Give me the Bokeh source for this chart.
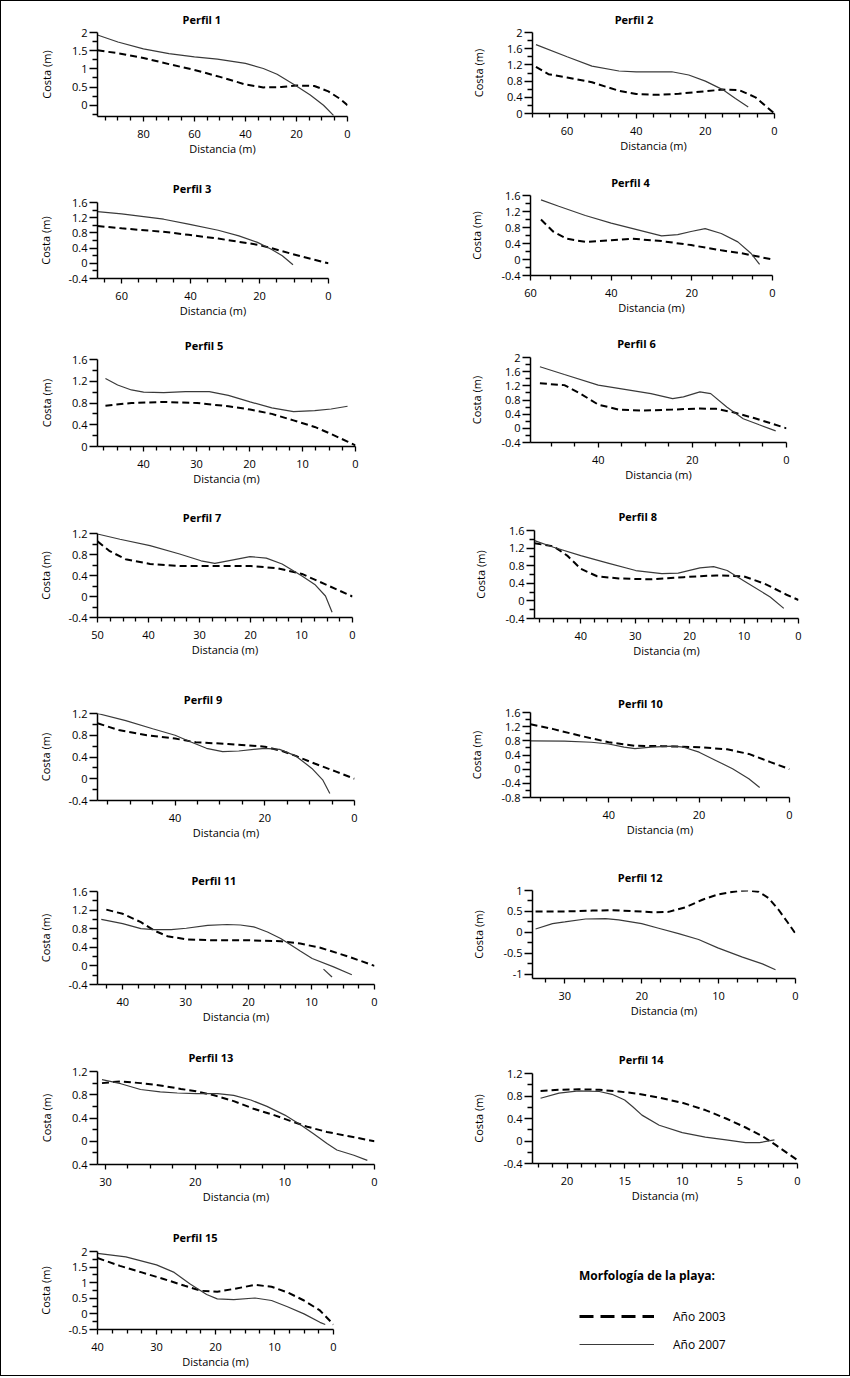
import numpy as np
from bokeh.plotting import figure
from bokeh.layouts import column, row
from bokeh.models import Range1d, FixedTicker, Legend, LegendItem, NumeralTickFormatter
from bokeh.embed import file_html
from bokeh.resources import INLINE

FONT = "Open Sans"

# ---------------- data ----------------
perfil_titles = ["Perfil %d" % k for k in range(1, 16)]
x_label = "Distancia (m)"
y_label = "Costa (m)"
legend_title = "Morfología de la playa:"
series_names = ["Año 2003", "Año 2007"]

p1_d03 = [98, 90, 80, 70, 60, 50, 40, 33, 26, 20, 13, 7.5, 3, 0]
p1_c03 = [1.51, 1.43, 1.30, 1.13, 0.97, 0.78, 0.57, 0.49, 0.50, 0.54, 0.53, 0.38, 0.18, 0.0]
p1_d07 = [98, 90, 80, 70, 60, 51, 40, 33, 27.6, 20.5, 14.6, 9.4, 5.5]
p1_c07 = [1.93, 1.74, 1.55, 1.42, 1.33, 1.27, 1.15, 1.01, 0.85, 0.55, 0.28, 0.0, -0.28]

p2_d03 = [69, 65.4, 60, 52.8, 45, 40, 33.5, 27.7, 20, 15, 10.3, 5.5, 2.5, 0]
p2_c03 = [1.15, 0.97, 0.89, 0.77, 0.56, 0.48, 0.46, 0.49, 0.55, 0.59, 0.58, 0.40, 0.18, 0.0]
p2_d07 = [69, 60, 52.8, 45, 40, 29.7, 24.8, 20, 15, 11.3, 7.6]
p2_c07 = [1.70, 1.40, 1.17, 1.05, 1.03, 1.03, 0.95, 0.80, 0.59, 0.37, 0.16]

p3_d03 = [67, 60, 48, 40.6, 32, 20.6, 16.6, 10.3, 4.8, 0]
p3_c03 = [0.98, 0.92, 0.83, 0.75, 0.65, 0.49, 0.40, 0.24, 0.11, 0.0]
p3_d07 = [67, 60, 47.8, 40.6, 32, 26, 20.6, 16.6, 13.4, 10.3]
p3_c07 = [1.36, 1.30, 1.16, 1.03, 0.87, 0.72, 0.55, 0.37, 0.20, -0.04]

p4_d03 = [57.4, 54.4, 51, 46.4, 40, 34.9, 27.5, 20.2, 12.7, 7.3, 0]
p4_c03 = [1.0, 0.70, 0.52, 0.44, 0.48, 0.52, 0.46, 0.36, 0.23, 0.15, 0.0]
p4_d07 = [57.4, 53, 46.4, 40, 32.9, 27.5, 23.5, 20.2, 16.7, 12.7, 8.6, 5.3, 3.2]
p4_c07 = [1.49, 1.33, 1.10, 0.91, 0.73, 0.59, 0.62, 0.70, 0.77, 0.65, 0.44, 0.15, -0.12]

p5_d03 = [47.2, 42.3, 36.2, 29.9, 24, 19.9, 15.8, 11.7, 7.7, 4.6, 1.5, 0]
p5_c03 = [0.75, 0.80, 0.82, 0.80, 0.74, 0.68, 0.60, 0.48, 0.36, 0.23, 0.09, 0.02]
p5_d07 = [47.2, 44.9, 42.3, 40, 36.2, 32.1, 27.6, 24, 19.9, 15.8, 11.7, 7.7, 4.6, 1.5]
p5_c07 = [1.25, 1.13, 1.04, 1.0, 0.99, 1.01, 1.01, 0.94, 0.82, 0.71, 0.64, 0.66, 0.69, 0.74]

p6_d03 = [52.4, 47.2, 43.8, 40, 35.7, 31.1, 24.2, 18.4, 15, 11.5, 6.9, 3.5, 0]
p6_c03 = [1.27, 1.22, 0.98, 0.67, 0.53, 0.50, 0.53, 0.56, 0.55, 0.46, 0.29, 0.15, 0.0]
p6_d07 = [52.4, 47.2, 40, 33.4, 28.8, 24.2, 21.9, 18.4, 16.1, 12.7, 9.2, 5.8, 2.3]
p6_c07 = [1.74, 1.52, 1.22, 1.08, 0.98, 0.84, 0.89, 1.03, 0.98, 0.60, 0.27, 0.10, -0.07]

p7_d03 = [50, 47.7, 44.5, 39.7, 33.9, 26.5, 19.9, 14.8, 9.9, 5.3, 0]
p7_c03 = [1.05, 0.87, 0.71, 0.62, 0.58, 0.58, 0.58, 0.54, 0.43, 0.23, 0.0]
p7_d07 = [50, 45.6, 39.7, 33.9, 29.7, 27, 24.4, 20.1, 16.9, 13.8, 9.9, 7.4, 5.3, 4.0]
p7_c07 = [1.19, 1.09, 0.97, 0.81, 0.68, 0.63, 0.68, 0.76, 0.73, 0.62, 0.39, 0.23, 0.01, -0.30]

p8_d03 = [48.5, 45, 42.5, 40, 37, 33, 27.1, 21.1, 15.1, 10.1, 6.2, 2.2, 0]
p8_c03 = [1.31, 1.24, 1.03, 0.73, 0.56, 0.51, 0.49, 0.54, 0.58, 0.56, 0.39, 0.14, 0.02]
p8_d07 = [48.5, 45, 40, 35, 29.9, 25.1, 22.1, 18.1, 15.6, 13.1, 9.7, 5.2, 2.7]
p8_c07 = [1.37, 1.22, 1.03, 0.86, 0.69, 0.62, 0.63, 0.75, 0.78, 0.69, 0.43, 0.09, -0.17]

p9_d03 = [57.3, 52.3, 46.3, 40, 35.4, 28.2, 20, 16.1, 13.1, 8.9, 4.1, 0]
p9_c03 = [1.02, 0.89, 0.80, 0.74, 0.67, 0.64, 0.59, 0.51, 0.42, 0.28, 0.13, 0.0]
p9_d07 = [57.3, 51, 45, 40, 36.6, 33, 29.4, 25.8, 20, 16.7, 13.1, 9.5, 7.1, 5.5]
p9_c07 = [1.20, 1.07, 0.92, 0.80, 0.68, 0.56, 0.50, 0.51, 0.56, 0.54, 0.42, 0.19, -0.02, -0.27]

p10_d03 = [57.3, 52.2, 46.2, 40, 34.2, 28.2, 20, 13.8, 9, 4.2, 0]
p10_c03 = [1.27, 1.13, 0.94, 0.76, 0.66, 0.65, 0.62, 0.56, 0.43, 0.20, 0.0]
p10_d07 = [57.3, 49.8, 43.8, 40, 36.6, 34.2, 30.6, 25.8, 23.4, 20, 16.2, 12.6, 9, 6.6]
p10_c07 = [0.80, 0.79, 0.76, 0.71, 0.62, 0.58, 0.62, 0.65, 0.62, 0.48, 0.24, 0.01, -0.27, -0.52]

p11_d03 = [42.6, 40, 37.1, 35, 32.9, 29.9, 25.5, 19.8, 14.9, 11.8, 8.6, 3.9, 0]
p11_c03 = [1.21, 1.12, 0.94, 0.76, 0.64, 0.57, 0.55, 0.55, 0.53, 0.48, 0.39, 0.19, 0.0]
p11_d07 = [43.4, 40, 37.1, 35, 32.3, 29.9, 26.5, 23.4, 21.3, 19.2, 17, 14.9, 13.4, 11.8, 9.9, 6.5, 3.6]
p11_c07 = [1.0, 0.91, 0.80, 0.78, 0.78, 0.81, 0.87, 0.89, 0.88, 0.84, 0.73, 0.59, 0.46, 0.32, 0.16, -0.02, -0.19]
p11_d07b = [8.1, 6.75]
p11_c07b = [-0.07, -0.24]

p12_d03 = [33.8, 30, 26.4, 23.8, 21.2, 18.6, 16.5, 14.3, 12.1, 10, 7.4, 6.3, 4.8, 3.5, 2.2, 1.1, 0]
p12_c03 = [0.50, 0.50, 0.52, 0.53, 0.51, 0.48, 0.49, 0.60, 0.78, 0.91, 0.99, 1.0, 0.97, 0.82, 0.54, 0.26, -0.03]
p12_d07 = [33.8, 31.6, 30, 27.3, 24.7, 23, 20, 17.8, 15.2, 12.6, 10.1, 6.9, 4.3, 2.6]
p12_c07 = [0.08, 0.21, 0.25, 0.32, 0.33, 0.30, 0.21, 0.10, -0.03, -0.17, -0.37, -0.59, -0.75, -0.89]

p13_d03 = [30.4, 28.3, 26.1, 23.9, 21.6, 19.9, 17.9, 15.7, 13.5, 11.2, 9.4, 7.5, 5.3, 3, 0]
p13_c03 = [1.0, 1.03, 1.0, 0.96, 0.90, 0.86, 0.79, 0.69, 0.56, 0.45, 0.35, 0.25, 0.16, 0.09, 0.0]
p13_d07 = [30.4, 28.3, 26.1, 23.9, 22, 19.9, 17.5, 15.7, 13.8, 12, 10, 8.3, 6.8, 5.3, 4.2, 2.3, 0.8]
p13_c07 = [1.06, 0.99, 0.89, 0.85, 0.83, 0.82, 0.82, 0.79, 0.71, 0.60, 0.45, 0.29, 0.13, -0.04, -0.15, -0.24, -0.33]

p14_d03 = [22.3, 20.7, 19, 17.2, 15.5, 13.8, 12, 10, 8, 6.2, 4.5, 3, 1.9, 0]
p14_c03 = [0.89, 0.91, 0.92, 0.91, 0.88, 0.84, 0.77, 0.68, 0.55, 0.40, 0.24, 0.08, -0.07, -0.34]
p14_d07 = [22.3, 20.7, 19, 17.2, 16.1, 15, 14.3, 13.5, 12, 10, 8, 6.2, 4.5, 3.3, 2]
p14_c07 = [0.76, 0.85, 0.89, 0.88, 0.83, 0.73, 0.61, 0.46, 0.28, 0.15, 0.07, 0.02, -0.03, -0.03, 0.02]

p15_d03 = [40, 36.2, 32.5, 28.8, 25.2, 22.4, 19.7, 16.9, 13.3, 10.5, 7.8, 5, 2.3, 0]
p15_c03 = [1.79, 1.54, 1.33, 1.12, 0.90, 0.74, 0.71, 0.80, 0.93, 0.87, 0.69, 0.43, 0.11, -0.34]
p15_d07 = [40, 35.2, 30, 27, 24.3, 21.5, 19.7, 16.9, 13.3, 10.5, 7.8, 5, 2.3, 1.4]
p15_c07 = [1.94, 1.83, 1.57, 1.33, 0.96, 0.62, 0.48, 0.46, 0.51, 0.43, 0.23, 0.0, -0.27, -0.34]

# axis extents and tick steps
x_extent = [98, 70, 67, 60, 48.7, 54.4, 50, 48.5, 57.3, 57.3, 44, 34.2, 30.9, 23, 40]
y_lower = [-0.31, 0, -0.4, -0.4, 0, -0.4, -0.4, -0.4, -0.4, -0.8, -0.4, -1.1, -0.4, -0.4, -0.5]
y_upper = [2, 2, 1.6, 1.6, 1.6, 2, 1.2, 1.6, 1.2, 1.6, 1.6, 1, 1.2, 1.2, 2]
y_first_tick = [0, 0, -0.4, -0.4, 0, -0.4, -0.4, -0.4, -0.4, -0.8, -0.4, -1, -0.4, -0.4, -0.5]
x_major_step = [20, 20, 20, 20, 10, 20, 10, 10, 20, 20, 10, 10, 10, 5, 10]
y_major_step = [0.5, 0.4, 0.4, 0.4, 0.4, 0.4, 0.4, 0.4, 0.4, 0.4, 0.4, 0.5, 0.4, 0.4, 0.5]
p13_tick_text = {-0.4: "0.4"}

series = [
    (p1_d03, p1_c03, p1_d07, p1_c07), (p2_d03, p2_c03, p2_d07, p2_c07),
    (p3_d03, p3_c03, p3_d07, p3_c07), (p4_d03, p4_c03, p4_d07, p4_c07),
    (p5_d03, p5_c03, p5_d07, p5_c07), (p6_d03, p6_c03, p6_d07, p6_c07),
    (p7_d03, p7_c03, p7_d07, p7_c07), (p8_d03, p8_c03, p8_d07, p8_c07),
    (p9_d03, p9_c03, p9_d07, p9_c07), (p10_d03, p10_c03, p10_d07, p10_c07),
    (p11_d03, p11_c03, p11_d07, p11_c07), (p12_d03, p12_c03, p12_d07, p12_c07),
    (p13_d03, p13_c03, p13_d07, p13_c07), (p14_d03, p14_c03, p14_d07, p14_c07),
    (p15_d03, p15_c03, p15_d07, p15_c07),
]

# ---------------- layout (page pixels) ----------------
frames = [
    (96.7, 347.3, 32.3, 116.3), (532.3, 774.0, 32.3, 113.3),
    (96.5, 328.5, 201.7, 278.3), (530.1, 771.8, 195.0, 275.3),
    (96.5, 355.0, 359.0, 446.0), (530.1, 786.0, 357.3, 441.7),
    (96.5, 352.3, 532.7, 616.7), (533.9, 797.8, 530.0, 618.3),
    (96.5, 354.5, 713.3, 800.0), (530.1, 788.6, 711.7, 797.3),
    (96.7, 374.3, 891.0, 984.3), (532.3, 795.0, 890.0, 978.3),
    (96.7, 374.0, 1070.7, 1164.0), (532.3, 796.7, 1073.3, 1163.3),
    (96.5, 333.3, 1250.7, 1329.0),
]
title_cx = [201, 633.7, 191, 630, 203, 636, 201, 637, 202, 640, 213, 640, 210, 641, 194]
title_cy = [19.3, 19.3, 188.3, 182.3, 345, 343.3, 517.3, 516, 700, 703.3, 880, 877, 1056.7, 1059.3, 1236.7]
left_cuts = [0, 163, 324, 494, 670, 850, 1032, 1212, 1376]
right_cuts = [0, 159, 321, 490, 670, 850, 1030, 1212, 1376]
COLX = [0, 425]
COLW = [425, 425]
LEGEND_LEFT = 579
LEGEND_ITEM2_BOTTOM = 1354

DASH_COLOR = "black"
SOLID_COLOR = "#3a3a3a"


def rnd(v):
    return int(v + 0.5)


def txt_w(s):
    w = 0.0
    for ch in s:
        if ch.isdigit():
            w += 6.3
        elif ch == ".":
            w += 2.9
        elif ch == "-":
            w += 3.5
        else:
            w += 6.0
    return w


def make_panel(i, col, bt, bb):
    L, R, T, B = frames[i]
    cx = COLX[col]
    W = COLW[col]
    mbl = rnd(L - cx)
    mbr = rnd(cx + W - R)
    mbt = rnd(T - bt)
    mbb = rnd(bb - B)
    xmax = x_extent[i]
    p = figure(width=W, height=bb - bt, output_backend="svg", toolbar_location=None,
               x_range=Range1d(start=xmax, end=0),
               y_range=Range1d(start=y_lower[i], end=y_upper[i]),
               min_border_left=mbl, min_border_right=mbr,
               min_border_top=mbt, min_border_bottom=mbb)
    p.grid.visible = False
    p.outline_line_color = None
    p.background_fill_color = None
    p.border_fill_color = None

    xs = x_major_step[i]
    xmaj = [round(v, 6) for v in np.arange(0, xmax + 1e-9, xs)]
    xmin = [round(v, 6) for v in np.arange(0, xmax + 1e-9, xs / 4.0)]
    xmin = [v for v in xmin if all(abs(v - m) > 1e-6 for m in xmaj)]
    ys = y_major_step[i]
    ymaj = [round(v, 6) for v in np.arange(y_first_tick[i], y_upper[i] + 1e-9, ys)]
    ymin_all = [round(v, 6) for v in np.arange(y_first_tick[i] - ys, y_upper[i] + 1e-9, ys / 2.0)]
    ymin = [v for v in ymin_all if v >= y_lower[i] - 1e-9 and all(abs(v - m) > 1e-6 for m in ymaj)]

    xa = p.xaxis[0]
    ya = p.yaxis[0]
    xa.ticker = FixedTicker(ticks=xmaj, minor_ticks=xmin)
    ya.ticker = FixedTicker(ticks=ymaj, minor_ticks=ymin)
    xa.formatter = NumeralTickFormatter(format="0.[0]")
    ya.formatter = NumeralTickFormatter(format="0.[0]")
    if i == 12:
        ya.major_label_overrides = p13_tick_text

    for ax in (xa, ya):
        ax.axis_line_width = 1.5
        ax.axis_line_color = "black"
        ax.major_tick_line_width = 1.3
        ax.minor_tick_line_width = 1.3
        ax.major_tick_line_color = "black"
        ax.minor_tick_line_color = "black"
        ax.major_tick_in = 0
        ax.minor_tick_in = 0
        ax.major_label_text_font = FONT
        ax.major_label_text_font_size = "11px"
        ax.major_label_text_color = "black"
        ax.axis_label_text_font = FONT
        ax.axis_label_text_font_size = "11px"
        ax.axis_label_text_font_style = "normal"
        ax.axis_label_text_color = "black"
    xa.axis_label = x_label
    ya.axis_label = y_label
    xa.major_tick_out = 5
    xa.minor_tick_out = 4
    xa.major_label_standoff = 8
    xa.axis_label_standoff = 0
    ya.major_tick_out = 8
    ya.minor_tick_out = 5
    ya.major_label_standoff = 2
    labels = [("%g" % v) for v in ymaj]
    if i == 12:
        labels = [p13_tick_text.get(v, l) for v, l in zip(ymaj, labels)]
    maxw = max(txt_w(s) for s in labels)
    target = 48.0 if col == 0 else 50.6
    ya.axis_label_standoff = rnd(max(0, target - 8 - 2 - maxw - 7.5))

    t = perfil_titles[i]
    est_w = 32.1 + 6.3 * (len(t) - 7)
    p.title.text = t
    p.title.align = "left"
    p.title.offset = title_cx[i] - L - est_w / 2.0
    p.title.text_font = FONT
    p.title.text_font_size = "11px"
    p.title.text_font_style = "bold"
    p.title.text_color = "black"
    p.title.standoff = rnd(max(0, 2 * (T - title_cy[i] - 7)))

    d03, c03, d07, c07 = series[i]
    p.line(d03, c03, line_color=DASH_COLOR, line_width=2, line_dash="7 4")
    p.line(d07, c07, line_color=SOLID_COLOR, line_width=1.2)
    if i == 10:
        p.line(p11_d07b, p11_c07b, line_color=SOLID_COLOR, line_width=1.2)
    return p


left_items = []
right_items = []
for k in range(8):
    i = 2 * k
    left_items.append(row(make_panel(i, 0, left_cuts[k], left_cuts[k + 1])))
for k in range(7):
    i = 2 * k + 1
    right_items.append(row(make_panel(i, 1, right_cuts[k], right_cuts[k + 1])))

# legend panel (key of the two surveys); its lines sit outside the visible range
bt, bb = right_cuts[7], right_cuts[8]
lf = figure(width=COLW[1], height=bb - bt, output_backend="svg", toolbar_location=None,
            x_range=Range1d(1000, 1001), y_range=Range1d(1000, 1001),
            x_axis_type=None, y_axis_type=None, min_border=0,
            min_border_left=0, min_border_right=0, min_border_top=0, min_border_bottom=0)
lf.outline_line_color = None
lf.grid.visible = False
lf.background_fill_color = None
lf.border_fill_color = None
k03 = lf.line(p15_d03, p15_c03, line_color="black", line_width=3, line_dash="14 7")
k07 = lf.line(p15_d07, p15_c07, line_color=SOLID_COLOR, line_width=1.2)
leg = Legend(items=[LegendItem(label=series_names[0], renderers=[k03]),
                    LegendItem(label=series_names[1], renderers=[k07])],
             location=(LEGEND_LEFT - COLX[1], bb - LEGEND_ITEM2_BOTTOM), title=legend_title)
leg.title_text_font = FONT
leg.title_text_font_size = "12px"
leg.title_text_font_style = "bold"
leg.title_text_color = "black"
leg.title_standoff = 22
leg.label_text_font = FONT
leg.label_text_font_size = "12px"
leg.label_text_color = "black"
leg.glyph_width = 75
leg.glyph_height = 20
leg.label_height = 20
leg.label_standoff = 19
leg.spacing = 8
leg.padding = 0
leg.margin = 0
leg.border_line_color = None
leg.background_fill_alpha = 0
lf.add_layout(leg)
right_items.append(row(lf))

layout = row(column(*left_items, spacing=0), column(*right_items, spacing=0), spacing=0,
             styles={"outline": "1px solid black", "outline-offset": "-1px"})

open("out.html", "w").write(file_html(layout, INLINE))
